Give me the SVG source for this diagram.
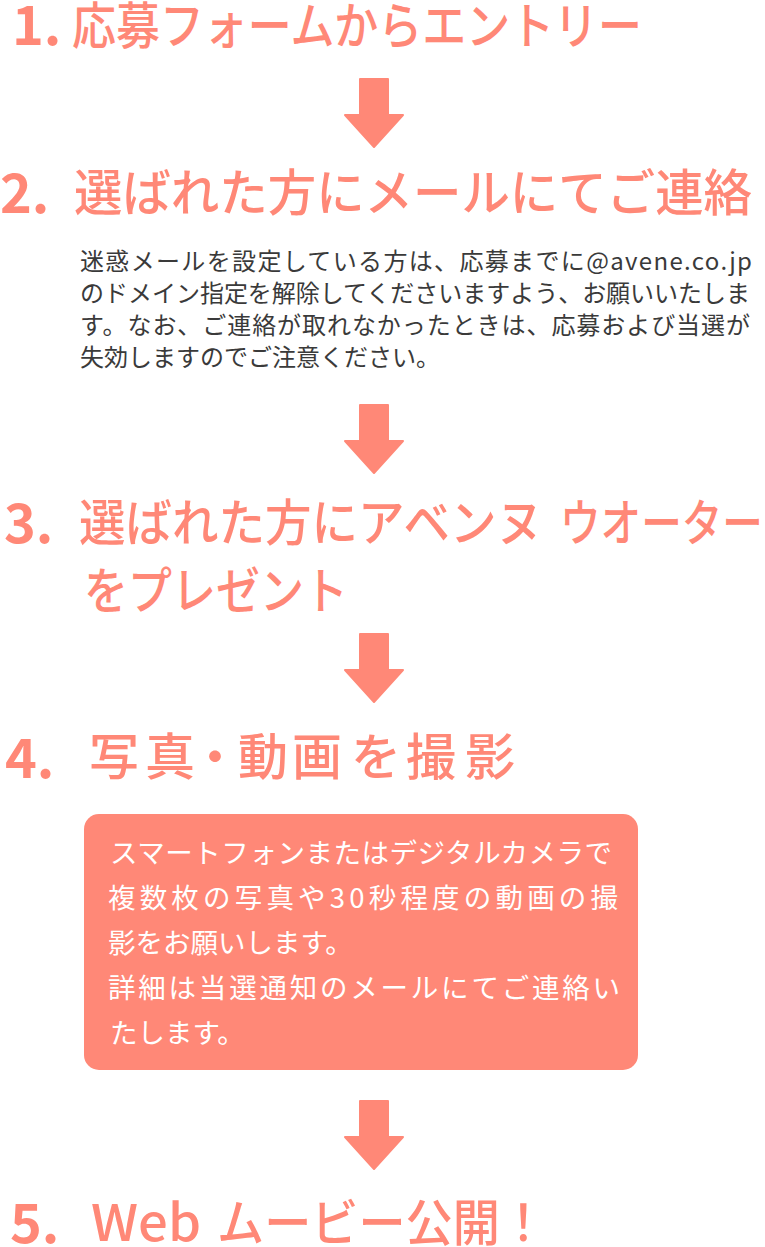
<svg xmlns="http://www.w3.org/2000/svg" xmlns:xlink="http://www.w3.org/1999/xlink" width="765" height="1247" viewBox="0 0 765 1247">
<style>
.num{font-family:"Noto Sans CJK JP","Noto Sans",sans-serif;font-weight:700;font-size:54px;fill:#FF8877}
.ttl{font-family:"Noto Sans CJK JP","Noto Sans",sans-serif;font-weight:500;font-size:50px;fill:#FF8877}
.body{font-family:"Noto Sans CJK JP","Noto Sans",sans-serif;font-weight:400;font-size:24px;fill:#3a3a3a}
.box{font-family:"Noto Sans CJK JP","Noto Sans",sans-serif;font-weight:400;font-size:27.5px;fill:#ffffff}
.arrow{fill:#FF8877;stroke:#FF8877;stroke-width:2;stroke-linejoin:round}
</style>
<defs>
<path id="arr" d="M 360 1 H 388 V 37 H 403 L 374 69 L 345 37 H 360 Z"/>
</defs>
<g id="connectors">
<use xlink:href="#arr" class="arrow" transform="translate(0,78)"/>
<use xlink:href="#arr" class="arrow" transform="translate(0,404)"/>
<use xlink:href="#arr" class="arrow" transform="translate(0,633)"/>
<use xlink:href="#arr" class="arrow" transform="translate(0,1100)"/>
</g>
<g id="step1">
<text class="num" x="12" y="45">1.</text>
<text class="ttl" x="72" y="44" textLength="570" lengthAdjust="spacingAndGlyphs">応募フォームからエントリー</text>
</g>
<g id="step2">
<text class="num" x="0" y="213">2.</text>
<text class="ttl" transform="translate(74,211) scale(0.9686,1)" x="0" y="0">選ばれた方にメールにてご連絡</text>
<text class="body" x="80" y="270" textLength="672" lengthAdjust="spacing">迷惑メールを設定している方は、応募までに@avene.co.jp</text>
<text class="body" x="80" y="302" textLength="670" lengthAdjust="spacing">のドメイン指定を解除してくださいますよう、お願いいたしま</text>
<text class="body" x="80" y="334" textLength="670" lengthAdjust="spacing">す。なお、ご連絡が取れなかったときは、応募および当選が</text>
<text class="body" x="80" y="366">失効しますのでご注意ください。</text>
</g>
<g id="step3">
<text class="num" x="4" y="543">3.</text>
<text class="ttl" x="79" y="541" textLength="464" lengthAdjust="spacingAndGlyphs">選ばれた方にアベンヌ</text>
<text class="ttl" transform="translate(560,541) scale(0.812,1)" x="0" y="0">ウオーター</text>
<text class="ttl" x="84" y="609" textLength="264" lengthAdjust="spacingAndGlyphs">をプレゼント</text>
</g>
<g id="step4">
<text class="num" x="5" y="778">4.</text>
<text class="ttl" x="89 145 190 238 292 351 406 465" y="775">写真・動画を撮影</text>
<rect x="84" y="814" width="554" height="256" rx="15" ry="15" fill="#FF8877"/>
<text class="box" x="110" y="863" textLength="502" lengthAdjust="spacing">スマートフォンまたはデジタルカメラで</text>
<text class="box" x="108" y="908" textLength="510" lengthAdjust="spacing">複数枚の写真や30秒程度の動画の撮</text>
<text class="box" x="108" y="953">影をお願いします。</text>
<text class="box" x="108" y="998" textLength="512" lengthAdjust="spacing">詳細は当選通知のメールにてご連絡い</text>
<text class="box" x="110" y="1043">たします。</text>
</g>
<g id="step5">
<text class="num" x="10" y="1243">5.</text>
<text class="ttl" x="91" y="1241" textLength="110" lengthAdjust="spacingAndGlyphs">Web</text>
<text class="ttl" x="217" y="1241" textLength="330" lengthAdjust="spacingAndGlyphs">ムービー公開！</text>
</g>
</svg>
